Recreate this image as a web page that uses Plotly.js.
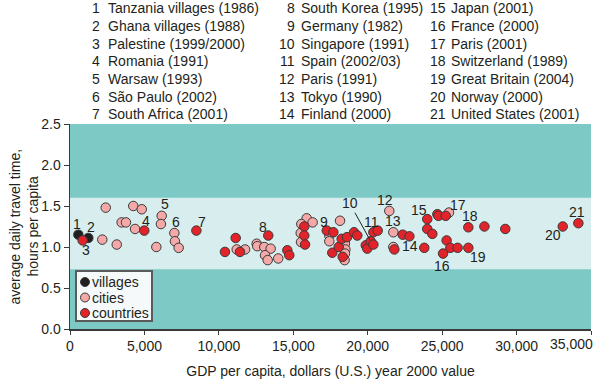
<!DOCTYPE html>
<html>
<head>
<meta charset="utf-8">
<script src="https://cdn.plot.ly/plotly-3.0.1.min.js"></script>
<style>html,body{margin:0;padding:0;background:#fff}#chart{width:600px;height:385px}</style>
</head>
<body>
<div id="chart"></div>
<script>
// ---- data ----
const villagesX = [560, 1230];
const villagesY = [1.15, 1.11];

const citiesX = [2400, 2170, 3140, 4250, 4820, 3470, 3760, 4370, 6160, 6110, 5800, 7010, 7050, 7300,
  11200, 11760, 12540, 12580, 13050, 13480, 13100, 13280, 13990,
  15900, 16300, 15540, 15500, 15520,
  17420, 17420, 18140, 18470, 18500, 18470, 18450,
  21450, 21720, 21720, 25460];
const citiesY = [1.48, 1.09, 1.03, 1.50, 1.46, 1.30, 1.30, 1.22, 1.38, 1.28, 1.00, 1.17, 1.07, 0.99,
  0.97, 0.97, 1.04, 1.01, 1.00, 0.98, 0.90, 0.84, 0.86,
  1.35, 1.30, 1.28, 1.17, 1.06,
  1.14, 1.07, 1.32, 1.04, 0.97, 0.92, 0.84,
  1.44, 1.18, 1.00, 1.42];

const countriesX = [850, 4990, 8490, 10410, 11130, 11420, 13320, 14600, 14730,
  15740, 15740, 15790, 17250, 17690, 17620, 18050, 18250, 18610, 18320,
  19080, 19300, 19870, 19970, 20200, 20380, 20380, 20670,
  21790, 22350, 22800, 23800, 24000, 24000, 24340, 24680, 24750, 25240,
  25300, 25550, 26040, 25060, 26760, 26760, 27840, 29240, 33100, 34150];
const countriesY = [1.08, 1.20, 1.20, 0.94, 1.11, 0.94, 1.14, 0.96, 0.90,
  1.25, 1.14, 1.03, 1.20, 1.18, 0.93, 1.00, 1.10, 1.12, 0.88,
  1.18, 1.14, 1.02, 0.98, 1.07, 1.03, 1.18, 1.20,
  0.97, 1.15, 1.13, 0.99, 1.34, 1.22, 1.16, 1.40, 1.38, 1.38,
  1.08, 0.99, 0.99, 0.92, 0.99, 1.24, 1.25, 1.22, 1.25, 1.29];

const studyNumbers = ["1","2","3","4","5","6","7","8","9","10","11","12","13","14","15","16","17","18","19","20","21"];
const studyNames = ["Tanzania villages (1986)", "Ghana villages (1988)", "Palestine (1999/2000)", "Romania (1991)",
  "Warsaw (1993)", "São Paulo (2002)", "South Africa (2001)", "South Korea (1995)", "Germany (1982)",
  "Singapore (1991)", "Spain (2002/03)", "Paris (1991)", "Tokyo (1990)", "Finland (2000)", "Japan (2001)",
  "France (2000)", "Paris (2001)", "Switzerland (1989)", "Great Britain (2004)", "Norway (2000)", "United States (2001)"];

const seriesNames = ["villages", "cities", "countries"];
const seriesColors = ["#231f20", "#f4a8a8", "#e3232a"];
const xTickVals = [0, 5000, 10000, 15000, 20000, 25000, 30000, 35000];
const xTickText = ["0", "5,000", "10,000", "15,000", "20,000", "25,000", "30,000", "35,000"];
const yTickVals = [0, 0.5, 1.0, 1.5, 2.0, 2.5];
const bandLow = 0.73, bandHigh = 1.6;

// ---- layout helpers ----
const M = {l: 70, r: 9, t: 124, b: 56};
const PW = 600 - M.l - M.r, PH = 385 - M.t - M.b;
const px = x => (x - M.l) / PW;
const py = y => (385 - M.b - y) / PH;
const FONT = "Liberation Sans, Arial, Helvetica, sans-serif";
const TXT = "#231f20";
const FS = 14;

const series = {v: [villagesX, villagesY], c: [citiesX, citiesY], r: [countriesX, countriesY]};
// which point each number label belongs to, with pixel offset of the label
const labelPlacement = [
  ["v",0,-1,-11],["v",1,3,-11],["r",0,3,10],["r",1,2,-10],["c",8,3,-12],["c",11,2,-11],["r",2,6,-9],
  ["r",6,-5,-9],["r",12,-3,-9],["r",23,-21,-38,true],["r",26,-6,-9],["c",35,-4,-11],["c",36,0,-11],
  ["r",29,1,10],["r",31,-8,-9],["r",40,-1,12],["c",38,9,-8],["r",42,2,-11],["r",41,10,9],["r",45,-10,8],["r",46,-1,-11]
];

const mk = (fill) => ({size: 9.5, color: fill, line: {color: "#3a3a3a", width: 1}});
const traces = [
  {type: "scatter", mode: "markers", name: seriesNames[0], x: villagesX, y: villagesY, marker: mk(seriesColors[0])},
  {type: "scatter", mode: "markers", name: seriesNames[1], x: citiesX, y: citiesY, marker: mk(seriesColors[1])},
  {type: "scatter", mode: "markers", name: seriesNames[2], x: countriesX, y: countriesY, marker: mk(seriesColors[2])}
];

const annotations = [];
// top key: three columns
const colNumRight = [102, 297, 448];
const colTextLeft = [106, 299, 449];
for (let i = 0; i < studyNames.length; i++) {
  const col = Math.floor(i / 7), row = i % 7;
  const yc = 8.5 + row * 17.6;
  annotations.push({xref: "paper", yref: "paper", x: px(colNumRight[col]), y: py(yc), xanchor: "right", yanchor: "middle",
    text: studyNumbers[i], showarrow: false, font: {family: FONT, size: FS, color: TXT}});
  annotations.push({xref: "paper", yref: "paper", x: px(colTextLeft[col]), y: py(yc), xanchor: "left", yanchor: "middle",
    text: studyNames[i], showarrow: false, font: {family: FONT, size: FS, color: TXT}});
}
// number labels on points
labelPlacement.forEach((p, i) => {
  const s = series[p[0]];
  const a = {x: s[0][p[1]], y: s[1][p[1]], text: studyNumbers[i], font: {family: FONT, size: FS, color: TXT}};
  if (p[4]) {
    Object.assign(a, {showarrow: true, arrowhead: 0, arrowwidth: 1, arrowcolor: TXT, ax: p[2], ay: p[3], standoff: 2});
  } else {
    Object.assign(a, {showarrow: false, xshift: p[2], yshift: -p[3], xanchor: "center", yanchor: "middle"});
  }
  annotations.push(a);
});
// y axis title (two lines)
annotations.push({xref: "paper", yref: "paper", x: px(14), y: 0.5, textangle: -90, showarrow: false,
  xanchor: "center", yanchor: "middle", text: "average daily travel time,", font: {family: FONT, size: FS, color: TXT}});
annotations.push({xref: "paper", yref: "paper", x: px(32), y: 0.5, textangle: -90, showarrow: false,
  xanchor: "center", yanchor: "middle", text: "hours per capita", font: {family: FONT, size: FS, color: TXT}});
// last x tick label, pulled inside the page (as in the reference)
annotations.push({xref: "x", yref: "paper", x: xTickVals[xTickVals.length - 1], y: 0, xanchor: "right", yanchor: "top",
  xshift: 4, yshift: -5, text: xTickText[xTickText.length - 1], showarrow: false, font: {family: FONT, size: FS, color: TXT}});

// key box (bottom-left, inside plot)
const shapes = [
  {type: "rect", xref: "paper", yref: "y", x0: 0, x1: 1, y0: bandLow, y1: bandHigh, fillcolor: "#d8eeee",
    line: {width: 0}, layer: "below"},
  {type: "rect", xref: "paper", yref: "paper", x0: px(76), x1: px(152), y0: py(321), y1: py(271),
    fillcolor: "#f6f9f9", line: {color: "#5a5a5a", width: 2}, layer: "above"}
];
const keyRows = [282, 297.5, 313];
seriesNames.forEach((n, i) => {
  shapes.push({type: "circle", xref: "paper", yref: "paper", xsizemode: "pixel", ysizemode: "pixel",
    xanchor: px(85), yanchor: py(keyRows[i]), x0: -4.5, x1: 4.5, y0: -4.5, y1: 4.5,
    fillcolor: seriesColors[i], line: {color: "#3a3a3a", width: 1}, layer: "above"});
  annotations.push({xref: "paper", yref: "paper", x: px(90), y: py(keyRows[i]), xanchor: "left", yanchor: "middle",
    text: n, showarrow: false, font: {family: FONT, size: FS, color: TXT}});
});

const layout = {
  width: 600, height: 385,
  margin: M,
  paper_bgcolor: "#ffffff", plot_bgcolor: "#7cc9c5",
  font: {family: FONT, size: FS, color: TXT},
  showlegend: false,
  xaxis: {range: [0, 35000], tickvals: xTickVals, ticktext: xTickText.map((t, i) => i === xTickText.length - 1 ? "" : t),
    showgrid: false, zeroline: false,
    showline: true, linecolor: "#3a3a3a", linewidth: 1.5, ticks: "outside", ticklen: 4, tickcolor: "#3a3a3a",
    tickfont: {family: FONT, size: FS, color: TXT},
    title: {text: "GDP per capita, dollars (U.S.) year 2000 value", standoff: 13, font: {family: FONT, size: FS, color: TXT}}},
  yaxis: {range: [0, 2.5], tickvals: yTickVals, tickformat: ".1f", showgrid: false, zeroline: false,
    showline: true, linecolor: "#3a3a3a", linewidth: 1.5, ticks: "outside", ticklen: 5, tickcolor: "#3a3a3a",
    tickfont: {family: FONT, size: FS, color: TXT}},
  shapes: shapes,
  annotations: annotations
};

Plotly.newPlot("chart", traces, layout, {staticPlot: true, displayModeBar: false});
</script>
</body>
</html>
